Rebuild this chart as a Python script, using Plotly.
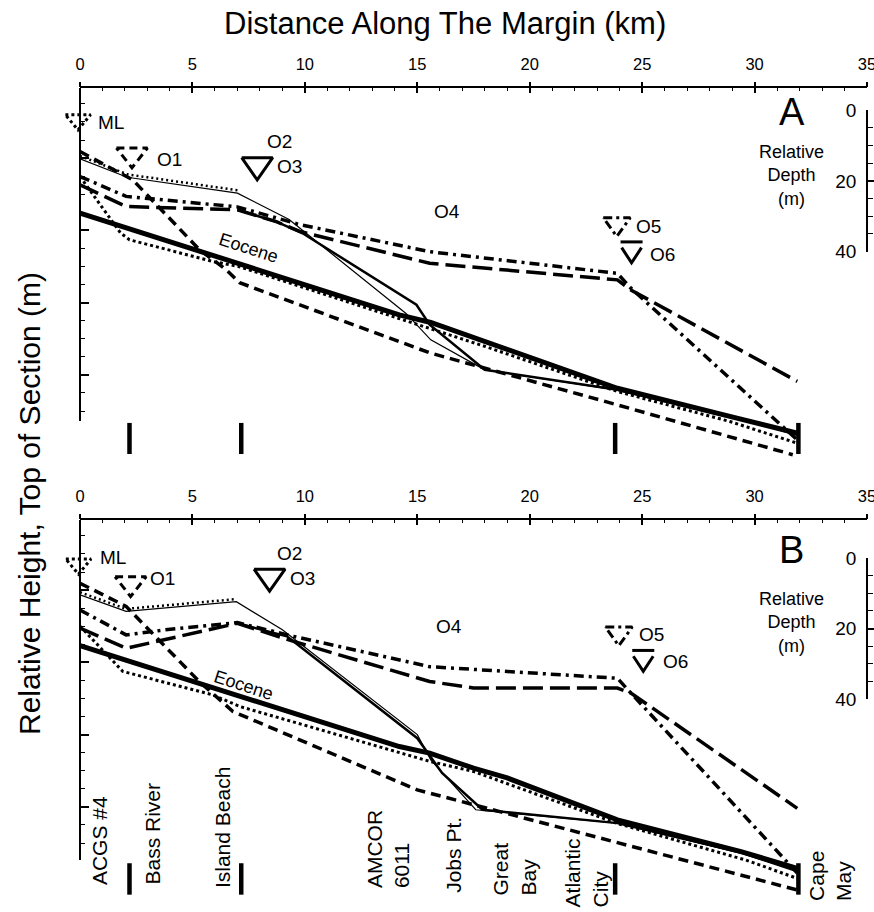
import plotly.graph_objects as go

W, H = 874, 912
X0_PX, X35_PX = 80, 867

# ---------------- data (km along margin, m below top of section) ----------------
# Panel A
A_EOC_X = [0, 14.2, 15.6, 17.8, 23.9, 28.9, 32.0]
A_EOC_D = [35.2, 63.4, 65.5, 70.3, 83.7, 91.5, 96.3]
A_LDOT_X = [0, 1.8, 2.2, 5.9, 7.06, 15.55, 18.0, 23.9, 28.9, 31.9]
A_LDOT_D = [25.1, 40.7, 42.6, 48.6, 50.0, 67.0, 72.1, 84.6, 92.9, 98.9]
A_ML_X = [0, 2.1, 7.0]
A_ML_D = [19.4, 24.5, 28.9]
A_O1_X = [0, 2.34, 5.32, 6.5, 7.1, 15.55, 23.9, 31.7]
A_O1_D = [18.2, 26.0, 45.4, 50.9, 54.5, 73.9, 88.3, 102.1]
A_O2_X = [0, 2.1, 7.0, 9.3, 14.5, 15.6, 18.0, 23.9, 29.0, 32.0]
A_O2_D = [20.2, 25.3, 29.7, 37.0, 63.0, 70.3, 78.6, 84.2, 91.5, 97.0]
A_O3_X = [7.0, 8.73, 9.9, 14.96, 15.55, 18.0, 23.9, 28.9, 31.9]
A_O3_D = [34.3, 37.6, 40.8, 60.6, 66.1, 78.6, 84.1, 91.5, 96.1]
A_O5_X = [0, 2.05, 7.0, 9.77, 15.55, 23.9, 24.5, 31.9]
A_O5_D = [25.1, 30.6, 33.5, 38.4, 45.9, 51.9, 56.0, 98.0]
A_O6_X = [0, 2.05, 7.0, 8.73, 9.77, 15.55, 23.9, 24.5, 31.9]
A_O6_D = [27.4, 33.4, 34.3, 37.6, 40.3, 49.1, 53.7, 56.5, 81.8]

# Panel B
B_EOC_X = [0, 14.2, 15.55, 17.5, 19.0, 23.9, 29.4, 31.9]
B_EOC_D = [35.4, 63.3, 65.1, 69.3, 72.0, 83.6, 92.4, 97.0]
B_LDOT_X = [0, 1.9, 5.9, 7.1, 15.55, 17.5, 23.9, 29.6, 31.9]
B_LDOT_D = [30.0, 42.5, 49.0, 52.2, 67.4, 70.2, 84.6, 94.7, 99.8]
B_ML_X = [0, 2.05, 6.95]
B_ML_D = [20.6, 25.2, 22.5]
B_O1_X = [0, 2.05, 5.3, 6.8, 15.0, 23.9, 31.9]
B_O1_D = [18.1, 24.5, 45.3, 53.6, 75.3, 90.0, 103.0]
B_O2_X = [0, 2.05, 6.95, 9.0, 15.0, 15.6, 17.6, 23.9, 29.5, 31.9]
B_O2_D = [21.3, 25.9, 23.2, 31.0, 60.0, 67.0, 80.8, 84.5, 93.0, 98.0]
B_O3_X = [7.0, 9.2, 9.6, 15.0, 16.1, 17.9, 23.9, 29.4, 31.9]
B_O3_D = [29.2, 32.8, 34.7, 61.0, 70.6, 80.8, 84.5, 92.6, 97.5]
B_O5_X = [0, 2.05, 3.8, 7.0, 9.5, 15.55, 23.9, 24.5, 31.9]
B_O5_D = [25.5, 32.4, 31.0, 29.0, 32.8, 41.2, 44.4, 48.5, 98.3]
B_O6_X = [0, 2.05, 7.0, 9.5, 15.55, 17.5, 23.9, 24.5, 31.9]
B_O6_D = [30.5, 36.1, 29.2, 34.2, 45.3, 47.1, 47.1, 48.5, 80.4]

# Triangles marking sequence tops: name, x (km), tip depth (m)
A_TRI_NAMES = ["ML", "O1", "O3", "O5", "O6"]
A_TRI_X = [-0.09, 2.31, 7.88, 23.87, 24.53]
A_TRI_TIP = [12.2, 22.7, 26.0, 41.7, 49.0]
B_TRI_NAMES = ["ML", "O1", "O3", "O5", "O6"]
B_TRI_X = [-0.07, 2.25, 8.43, 23.96, 25.05]
B_TRI_TIP = [15.6, 21.8, 20.3, 35.4, 42.5]

# Borehole locations (km)
WELL_BAR_X = [2.2, 7.17, 23.8, 31.95]
WELL_NAMES = ["ACGS #4", "Bass River", "Island Beach", "AMCOR<br>6011", "Jobs Pt.",
              "Great<br>Bay", "Atlantic<br>City", "Cape<br>May"]
WELL_LABEL_X = [0.87, 3.18, 6.34, 13.7, 16.58, 19.3, 22.5, 33.35]

# Sequence labels: text, x (km), depth (m)
A_LAB_T = ["ML", "O1", "O2", "O3", "O4", "O5", "O6"]
A_LAB_X = [1.36, 4.0, 8.88, 9.3, 16.3, 25.3, 25.9]
A_LAB_D = [10.2, 20.5, 15.4, 22.4, 34.9, 39.0, 46.8]
B_LAB_T = ["ML", "O1", "O2", "O3", "O4", "O5", "O6"]
B_LAB_X = [1.45, 3.67, 9.32, 9.9, 16.4, 25.4, 26.5]
B_LAB_D = [11.1, 16.9, 10.0, 16.9, 30.2, 32.4, 39.9]

XTICKS = [0, 5, 10, 15, 20, 25, 30, 35]
DEPTH_TICKS = [0, 20, 40]

# ---------------- styles ----------------
FONT = "Liberation Sans, Arial, Helvetica, sans-serif"
STY = {
    "EOC": dict(width=5, dash="solid"),
    "LDOT": dict(width=3, dash="3px,3px"),
    "ML": dict(width=2.5, dash="2px,3px"),
    "O1": dict(width=3.5, dash="10px,6px"),
    "O2": dict(width=1.2, dash="solid"),
    "O3": dict(width=2.5, dash="solid"),
    "O5": dict(width=3.5, dash="10px,5px,3px,5px"),
    "O6": dict(width=3.5, dash="20px,7px"),
}
TRI_STY = {
    "ML": dict(width=3, dash="3px,3px", hw=0.56, h=4.2),
    "O1": dict(width=3, dash="8px,5px", hw=0.69, h=5.5),
    "O3": dict(width=3, dash="solid", hw=0.69, h=6.1),
    "O5": dict(width=3, dash="9px,4px,3px,4px", hw=0.6, h=5.2),
    "O6": dict(width=3, dash="solid", hw=0.49, h=4.2),
}


def dom(p1, p2):
    return [1 - p2 / H, 1 - p1 / H]


PX_PER_KM = (X35_PX - X0_PX) / 35.0
XDOM = [X0_PX / W, X35_PX / W]
XR = [-0.001, 35.001]
XR_WIDE = [-X0_PX / PX_PER_KM, 35 + (W - X35_PX) / PX_PER_KM]

fig = go.Figure()

panels = [
    dict(xa="x", ya="y", xt="x5", lines=[
        ("LDOT", A_LDOT_X, A_LDOT_D), ("O1", A_O1_X, A_O1_D), ("O6", A_O6_X, A_O6_D),
        ("O5", A_O5_X, A_O5_D), ("O2", A_O2_X, A_O2_D), ("ML", A_ML_X, A_ML_D),
        ("O3", A_O3_X, A_O3_D), ("EOC", A_EOC_X, A_EOC_D)],
        tri=(A_TRI_NAMES, A_TRI_X, A_TRI_TIP), bar=(93.3, 101.9),
        labs=(A_LAB_T, A_LAB_X, A_LAB_D), eoc=(7.5, 45.0), letter="A", lpos=(31.66, 7.2),
        rd=(31.66, 24.8)),
    dict(xa="x2", ya="y2", xt="x6", lines=[
        ("LDOT", B_LDOT_X, B_LDOT_D), ("O1", B_O1_X, B_O1_D), ("O6", B_O6_X, B_O6_D),
        ("O5", B_O5_X, B_O5_D), ("O2", B_O2_X, B_O2_D), ("ML", B_ML_X, B_ML_D),
        ("O3", B_O3_X, B_O3_D), ("EOC", B_EOC_X, B_EOC_D)],
        tri=(B_TRI_NAMES, B_TRI_X, B_TRI_TIP), bar=(95.6, 104.3),
        labs=(B_LAB_T, B_LAB_X, B_LAB_D), eoc=(7.25, 46.4), letter="B", lpos=(31.66, 8.9),
        rd=(31.66, 29.0)),
]

annotations = []
for p in panels:
    for key, xs, ds in p["lines"]:
        s = STY[key]
        fig.add_trace(go.Scatter(x=xs, y=ds, mode="lines", xaxis=p["xa"], yaxis=p["ya"],
                                 line=dict(color="black", width=s["width"], dash=s["dash"]),
                                 showlegend=False, hoverinfo="skip"))
    names, txs, tips = p["tri"]
    for nm, tx, tip in zip(names, txs, tips):
        s = TRI_STY[nm]
        hw, h = s["hw"], s["h"]
        if nm == "O6":
            xs = [tx - hw, tx + hw, None, tx - hw * 0.9, tx, tx + hw * 0.9]
            ys = [tip - h - 1.6, tip - h - 1.6, None, tip - h, tip, tip - h]
        else:
            xs = [tx - hw, tx + hw, tx, tx - hw]
            ys = [tip - h, tip - h, tip, tip - h]
        # drawn on a wider twin x axis (same scale) so the ML triangle is not clipped
        fig.add_trace(go.Scatter(x=xs, y=ys, mode="lines", xaxis=p["xt"], yaxis=p["ya"],
                                 line=dict(color="black", width=s["width"], dash=s["dash"]),
                                 showlegend=False, hoverinfo="skip", connectgaps=False))
    # borehole bars
    bx, by = [], []
    for wx in WELL_BAR_X:
        bx += [wx, wx, None]
        by += [p["bar"][0], p["bar"][1], None]
    fig.add_trace(go.Scatter(x=bx, y=by, mode="lines", xaxis=p["xa"], yaxis=p["ya"],
                             line=dict(color="black", width=4.5), showlegend=False,
                             hoverinfo="skip"))
    t, lx, ld = p["labs"]
    for tt, xx, dd in zip(t, lx, ld):
        annotations.append(dict(text=tt, x=xx, y=dd, xref=p["xa"], yref=p["ya"],
                                showarrow=False, font=dict(size=19, family=FONT, color="black")))
    annotations.append(dict(text="Eocene", x=p["eoc"][0], y=p["eoc"][1], xref=p["xa"], yref=p["ya"],
                            showarrow=False, textangle=18,
                            font=dict(size=18, family=FONT, color="black")))
    annotations.append(dict(text=p["letter"], x=p["lpos"][0], y=p["lpos"][1], xref=p["xa"],
                            yref=p["ya"], showarrow=False,
                            font=dict(size=38, family=FONT, color="black")))
    annotations.append(dict(text="Relative<br>Depth<br>(m)", x=p["rd"][0], y=p["rd"][1],
                            xref=p["xa"], yref=p["ya"], showarrow=False,
                            font=dict(size=18, family=FONT, color="black")))

# dummy traces so every axis is drawn
for xa, ya in [("x", "y3"), ("x", "y5"), ("x3", "y"), ("x2", "y4"), ("x2", "y6"), ("x4", "y2")]:
    fig.add_trace(go.Scatter(x=[None], y=[None], xaxis=xa, yaxis=ya, showlegend=False,
                             hoverinfo="skip"))

# well labels (panel B, rotated)
WELL_BOTTOM_PX = [887, 887, 890, 890, 895, 897, 909, 903]
for nm, wx, bp in zip(WELL_NAMES, WELL_LABEL_X, WELL_BOTTOM_PX):
    annotations.append(dict(text=nm, x=wx, y=1 - bp / H, xref="x2", yref="paper",
                            xanchor="center", yanchor="bottom", textangle=-90, align="left",
                            showarrow=False, font=dict(size=21, family=FONT, color="black")))

annotations.append(dict(text="Distance Along The Margin (km)", x=445 / W,
                        y=1 - 24 / H, xref="paper", yref="paper", showarrow=False,
                        xanchor="center", yanchor="middle",
                        font=dict(size=31, family=FONT, color="black")))
annotations.append(dict(text="Relative Height, Top of Section (m)", x=29 / W,
                        y=1 - 504 / H, xref="paper", yref="paper", showarrow=False,
                        textangle=-90, xanchor="center", yanchor="middle",
                        font=dict(size=30, family=FONT, color="black")))

PXKM = 3.613
top_x = dict(range=XR, domain=XDOM, side="top", showline=True, linecolor="black", linewidth=1.5,
             ticks="inside", ticklen=5, tickwidth=1.5, tickcolor="black",
             tickvals=XTICKS, ticktext=[str(v) for v in XTICKS],
             tickfont=dict(size=16.5, family=FONT, color="black"),
             minor=dict(ticks="inside", ticklen=3, dtick=1, tick0=0, tickwidth=1, tickcolor="black"),
             showgrid=False, zeroline=False, ticklabelstandoff=10, ticklabeloverflow="allow",
             automargin=False)
twin_x = dict(range=XR, side="top", showline=False, ticks="outside", ticklen=5,
              tickwidth=1.5, tickcolor="black", tickvals=XTICKS, showticklabels=False,
              showgrid=False, zeroline=False, automargin=False)
wide_x = dict(range=XR_WIDE, domain=[0, 1], visible=False, showgrid=False, zeroline=False,
              automargin=False)
left_ticks = dict(anchor="free", position=XDOM[0], side="left", showline=True, linecolor="black",
                  linewidth=1.5, ticks="inside", ticklen=8, tickwidth=1.5, tickcolor="black",
                  dtick=20, tick0=0, showticklabels=False, showgrid=False, zeroline=False,
                  automargin=False,
                  minor=dict(ticks="inside", ticklen=4, dtick=5, tick0=0, tickwidth=1,
                             tickcolor="black"))
right_depth = dict(anchor="free", position=XDOM[1], side="left", showline=True, linecolor="black",
                   linewidth=1.5, ticks="inside", ticklen=9, tickwidth=1.5, tickcolor="black",
                   tickvals=DEPTH_TICKS, ticktext=[str(v) for v in DEPTH_TICKS],
                   tickfont=dict(size=19, family=FONT, color="black"), range=[40, 0],
                   showgrid=False, zeroline=False, ticklabelstandoff=6, automargin=False,
                   minor=dict(ticks="inside", ticklen=5, dtick=5, tick0=0, tickwidth=1,
                              tickcolor="black"))
hidden_y = dict(visible=False, showgrid=False, zeroline=False, automargin=False)

fig.update_layout(
    width=W, height=H, margin=dict(l=0, r=0, t=0, b=0, autoexpand=False),
    paper_bgcolor="white", plot_bgcolor="rgba(0,0,0,0)", showlegend=False,
    annotations=annotations,
    xaxis=dict(top_x, anchor="y"),
    xaxis3=dict(twin_x, overlaying="x", anchor="y"),
    xaxis2=dict(top_x, anchor="y2"),
    xaxis4=dict(twin_x, overlaying="x2", anchor="y2"),
    xaxis5=dict(wide_x, anchor="y"),
    xaxis6=dict(wide_x, anchor="y2"),
    yaxis=dict(hidden_y, domain=dom(88, 458), range=[0.6 + 370 / PXKM, 0.6], anchor="x"),
    yaxis2=dict(hidden_y, domain=dom(520, 897), range=[0.6 + 377 / PXKM, 0.6], anchor="x2"),
    yaxis3=dict(left_ticks, domain=dom(88, 421), range=[0.6 + 333 / PXKM, 0.6]),
    yaxis4=dict(left_ticks, domain=dom(520, 860), range=[0.6 + 340 / PXKM, 0.6]),
    yaxis5=dict(right_depth, domain=dom(110, 251.7)),
    yaxis6=dict(right_depth, domain=dom(558, 699)),
)

fig.write_html("out.html")
